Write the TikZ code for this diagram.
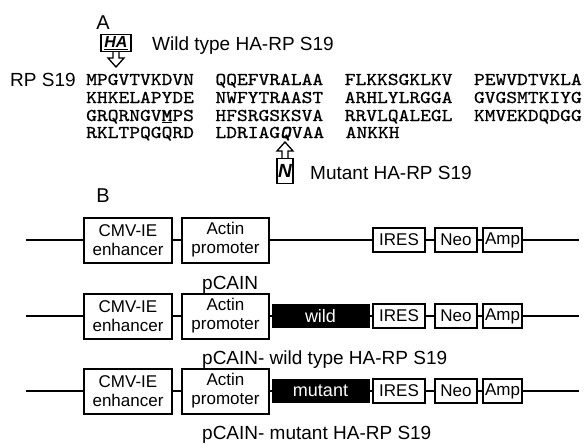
\documentclass[tikz,border=0pt]{standalone}
\usepackage{fontspec}
\setmainfont{Liberation Sans}
\newfontfamily\seqfont{lmmono10-regular.otf}[FakeStretch=1.14, FakeBold=0.8,
  BoldFont=lmmonolt10-bold.otf, ItalicFont=lmmono10-italic.otf,
  BoldItalicFont=lmmonolt10-boldoblique.otf]
\usepackage{tikz}
\usetikzlibrary{positioning}

\tikzset{
  seq/.style={anchor=base west, inner sep=0pt, text height=10pt, text depth=2pt,
    font=\fontsize{18}{18}\selectfont\seqfont},
  lab/.style={anchor=base west, inner sep=0pt, font=\fontsize{19}{19}\selectfont},
  panel/.style={anchor=base, inner sep=0pt, font=\fontsize{20}{20}\selectfont},
  bigbox/.style={draw, line width=2pt, fill=white, minimum width=88pt, minimum height=45pt,
    inner sep=0pt, align=center, font=\fontsize{17}{19}\selectfont},
  smallbox/.style={draw, line width=2.2pt, fill=white, minimum height=24pt, inner sep=0pt,
    font=\fontsize{17}{17}\selectfont},
  genebar/.style={fill=black, minimum width=98pt, minimum height=24pt, inner sep=0pt,
    text=white, font=\fontsize{18}{18}\selectfont},
  tagbox/.style={draw, line width=1.8pt, fill=white, inner sep=0pt,
    font=\bfseries\itshape},
  tagarrow/.style={draw, line width=1.3pt, fill=white, line join=miter},
  dnaline/.style={line width=1.7pt}
}

\begin{document}
\begin{tikzpicture}[x=1pt, y=-1pt]
    \useasboundingbox (0,0) rectangle (586,445);

    % Panel A
    \node[panel] (pa) at (103,29) {A};

    % HA tag with its arrow
    \draw[tagarrow] (113,51) -- (113,58) -- (108,58) -- (116,67) -- (124,58) -- (119,58) -- (119,51);
    \node[tagbox, minimum width=30pt, minimum height=17pt, font=\fontsize{16}{16}\selectfont\bfseries\itshape]
      (ha) at (116,43) {\underline{HA}};
    \node[lab] (wildtxt) at (152,50) {Wild type HA-RP S19};

    % RP S19 sequence
    \node[lab] (rps) at (10,86) {RP S19};
    \node[seq] (row1) at (86,85) {MPGVTVKDVN~~QQEFVRALAA~~FLKKSGKLKV~~PEWVDTVKLA};
    \node[seq] (row2) at (86,103) {KHKELAPYDE~~NWFYTRAAST~~ARHLYLRGGA~~GVGSMTKIYG};
    \node[seq] (row3) at (86,121) {GRQRNGV\underline{\textbf{M}}PS~~HFSRGSKSVA~~RRVLQALEGL~~KMVEKDQDGG};
    \node[seq] (row4) at (86,138) {RKLTPQGQRD~~LDRIAG\textbf{\textit{Q}}VAA~~ANKKH};

    % mutant tag with its arrow
    \draw[tagarrow] (282,159) -- (282,151) -- (277,151) -- (285,142) -- (293,151) -- (288,151) -- (288,159);
    \node[tagbox, minimum width=16pt, minimum height=25pt, font=\fontsize{19}{19}\selectfont\bfseries\itshape]
      (nt) at (285,171) {N};
    \node[lab] (muttxt) at (310,179) {Mutant HA-RP S19};

    % Panel B
    \node[panel] (pb) at (103,202) {B};

    % Constructs
    \foreach \r/\y in {1/240, 2/316, 3/391} {
      \coordinate (l\r) at (26,\y);
      \coordinate (r\r) at (579,\y);
      \draw[dnaline] (l\r) -- (r\r);
      \node[bigbox] (cmv\r) at (128,\y) {CMV-IE\\enhancer};
      \node[bigbox, minimum width=87pt] (act\r) at (225.5,\y) {Actin\\promoter};
      \node[smallbox, minimum width=52pt] (ires\r) at (399,\y) {IRES};
      \node[smallbox, minimum width=42pt] (neo\r) at (456,\y) {Neo};
      \node[smallbox, minimum width=39pt] (amp\r) at (502.5,\y) {Amp};
    }
    \node[genebar] (wild) at (320.5,316) {wild};
    \node[genebar] (mut) at (320.5,391) {mutant};

    % Construct names
    \node[lab] (name1) at (202,289) {pCAIN};
    \node[lab] (name2) at (202,364) {pCAIN- wild type HA-RP S19};
    \node[lab] (name3) at (202,439) {pCAIN- mutant HA-RP S19};
\end{tikzpicture}
\end{document}
